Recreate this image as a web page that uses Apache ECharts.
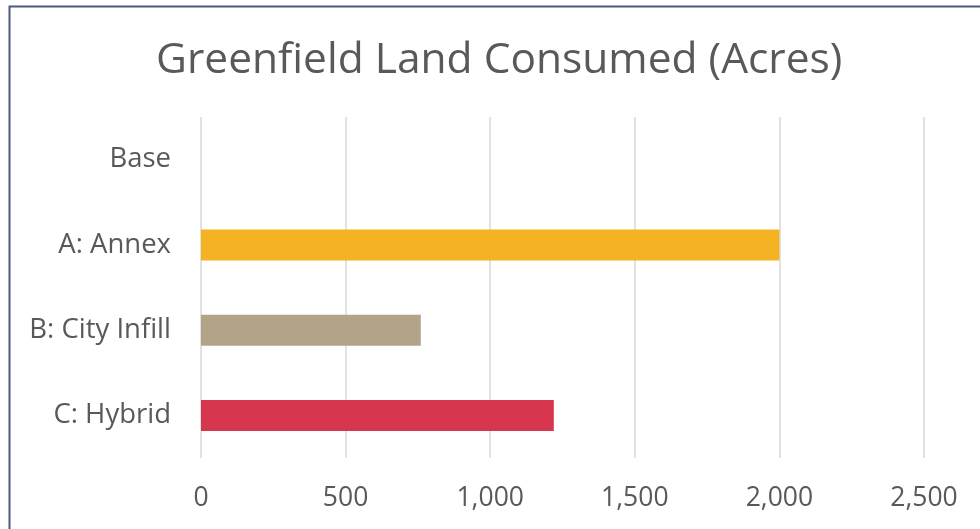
<!DOCTYPE html>
<html>
<head>
<meta charset="utf-8">
<script src="https://cdn.jsdelivr.net/npm/echarts@6/dist/echarts.min.js"></script>
<style>
  html, body { margin: 0; padding: 0; background: #fff; }
  #chart { width: 980px; height: 529px; }
</style>
</head>
<body>
<div id="chart"></div>
<script>
// Scenario names and greenfield acreage consumed by each
const scenarios = ['Base', 'A: Annex', 'B: City Infill', 'C: Hybrid'];
const acres = [0, 2000, 760, 1220];
const xTicks = [0, 500, 1000, 1500, 2000, 2500];

// One fill per scenario bar
const barColors = ['#a5a5a5', '#f5b223', '#b2a389', '#d6374e'];

const chart = echarts.init(document.getElementById('chart'));
chart.setOption({
  backgroundColor: '#ffffff',
  animation: false,
  textStyle: { fontFamily: '"Open Sans", sans-serif' },
  title: {
    text: 'Greenfield Land Consumed (Acres)',
    left: 151,
    top: 34,
    textStyle: { fontSize: 42.5, fontWeight: 'normal', color: '#595959', fontFamily: '"Open Sans", sans-serif' }
  },
  graphic: [{
    type: 'rect',
    shape: { x: 9.5, y: 6.5, width: 1000, height: 600 },
    style: { fill: 'none', stroke: '#4d5b78', lineWidth: 2 },
    silent: true
  }],
  grid: { left: 201, right: 56, top: 117, bottom: 71, containLabel: false },
  xAxis: {
    type: 'value',
    min: xTicks[0],
    max: xTicks[xTicks.length - 1],
    interval: 500,
    axisLine: { show: false },
    axisTick: { show: false },
    splitLine: { lineStyle: { color: '#d9d9d9', width: 1.5 } },
    axisLabel: {
      color: '#595959',
      fontSize: 26.5,
      margin: 27,
      formatter: v => v.toLocaleString('en-US')
    }
  },
  yAxis: {
    type: 'category',
    data: scenarios,
    inverse: true,
    axisLine: { show: false },
    axisTick: { show: false },
    axisLabel: { color: '#595959', fontSize: 27.5, margin: 30 }
  },
  series: [{
    type: 'bar',
    barWidth: 31,
    data: acres.map((v, i) => ({ value: v, itemStyle: { color: barColors[i] } }))
  }]
});
</script>
</body>
</html>
